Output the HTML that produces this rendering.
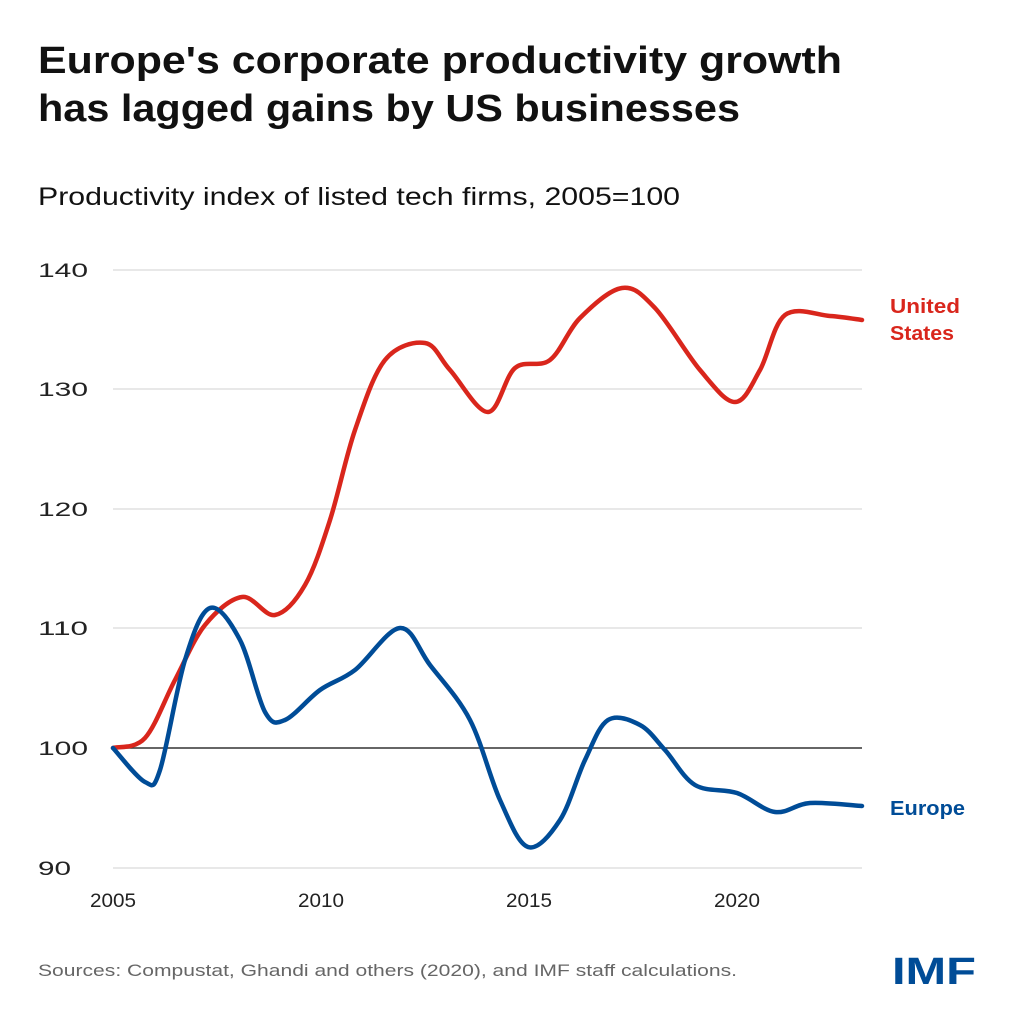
<!DOCTYPE html>
<html><head><style>
body{margin:0;background:#fff;width:1024px;height:1024px;overflow:hidden;font-family:"Liberation Sans",sans-serif}
</style></head><body>
<svg width="1024" height="1024" xmlns="http://www.w3.org/2000/svg" font-family="Liberation Sans, sans-serif">
<text x="38" y="73" font-size="38" font-weight="bold" fill="#111" textLength="804" lengthAdjust="spacingAndGlyphs">Europe's corporate productivity growth</text>
<text x="38" y="121" font-size="38" font-weight="bold" fill="#111" textLength="702" lengthAdjust="spacingAndGlyphs">has lagged gains by US businesses</text>
<text x="38" y="205" font-size="25" fill="#111" textLength="642" lengthAdjust="spacingAndGlyphs">Productivity index of listed tech firms, 2005=100</text>
<g stroke="#e0e0e0" stroke-width="1.5">
<line x1="113" x2="862" y1="270" y2="270"/><line x1="113" x2="862" y1="389" y2="389"/>
<line x1="113" x2="862" y1="509" y2="509"/><line x1="113" x2="862" y1="628" y2="628"/>
<line x1="113" x2="862" y1="868" y2="868"/>
</g>
<line x1="113" x2="862" y1="748" y2="748" stroke="#333" stroke-width="1.5"/>
<g font-size="19" fill="#222">
<text x="38" y="277" textLength="50" lengthAdjust="spacingAndGlyphs">140</text><text x="38" y="396" textLength="50" lengthAdjust="spacingAndGlyphs">130</text><text x="38" y="516" textLength="50" lengthAdjust="spacingAndGlyphs">120</text>
<text x="38" y="635" textLength="50" lengthAdjust="spacingAndGlyphs">110</text><text x="38" y="755" textLength="50" lengthAdjust="spacingAndGlyphs">100</text><text x="38" y="875" textLength="33" lengthAdjust="spacingAndGlyphs">90</text>
<text x="90" y="907" textLength="46" lengthAdjust="spacingAndGlyphs">2005</text><text x="298" y="907" textLength="46" lengthAdjust="spacingAndGlyphs">2010</text>
<text x="506" y="907" textLength="46" lengthAdjust="spacingAndGlyphs">2015</text><text x="714" y="907" textLength="46" lengthAdjust="spacingAndGlyphs">2020</text>
</g>
<path id="us" fill="none" stroke="#d9261c" stroke-width="4.5" stroke-linecap="round"/>
<path id="eu" fill="none" stroke="#004c97" stroke-width="4.5" stroke-linecap="round"/>
<text x="890" y="313" font-size="20" font-weight="bold" fill="#d9261c" textLength="70" lengthAdjust="spacingAndGlyphs">United</text>
<text x="890" y="340" font-size="20" font-weight="bold" fill="#d9261c" textLength="64" lengthAdjust="spacingAndGlyphs">States</text>
<text x="890" y="815" font-size="20" font-weight="bold" fill="#004c97" textLength="75" lengthAdjust="spacingAndGlyphs">Europe</text>
<text x="38" y="976" font-size="17" fill="#666" textLength="699" lengthAdjust="spacingAndGlyphs">Sources: Compustat, Ghandi and others (2020), and IMF staff calculations.</text>
<text x="892" y="984" font-size="38" font-weight="bold" fill="#004c97" textLength="84" lengthAdjust="spacingAndGlyphs">IMF</text>
</svg>
<script>
function cr(p){let d="M"+p[0][0]+","+p[0][1];for(let i=0;i<p.length-1;i++){const a=p[i-1]||p[i],b=p[i],c=p[i+1],e=p[i+2]||c;
d+=" C"+(b[0]+(c[0]-a[0])/6)+","+(b[1]+(c[1]-a[1])/6)+" "+(c[0]-(e[0]-b[0])/6)+","+(c[1]-(e[1]-b[1])/6)+" "+c[0]+","+c[1];}return d;}
const us=[[113,748],[145,738],[175,680],[205,625],[242,597],[275,615],[305,585],[330,520],[355,430],[385,360],[425,343],[450,370],[488,412],[515,368],[550,360],[580,318],[622,288],[655,308],[700,370],[735,402],[760,370],[785,315],[830,316],[862,320]];
const eu=[[113,748],[145,782],[160,770],[185,660],[210,608],[240,640],[265,712],[285,720],[320,690],[355,670],[400,628],[430,665],[470,720],[500,800],[528,847],[560,820],[585,760],[608,720],[640,725],[665,750],[695,785],[737,793],[775,812],[810,803],[862,806]];
document.getElementById("us").setAttribute("d",cr(us));
document.getElementById("eu").setAttribute("d",cr(eu));
</script>
</body></html>
